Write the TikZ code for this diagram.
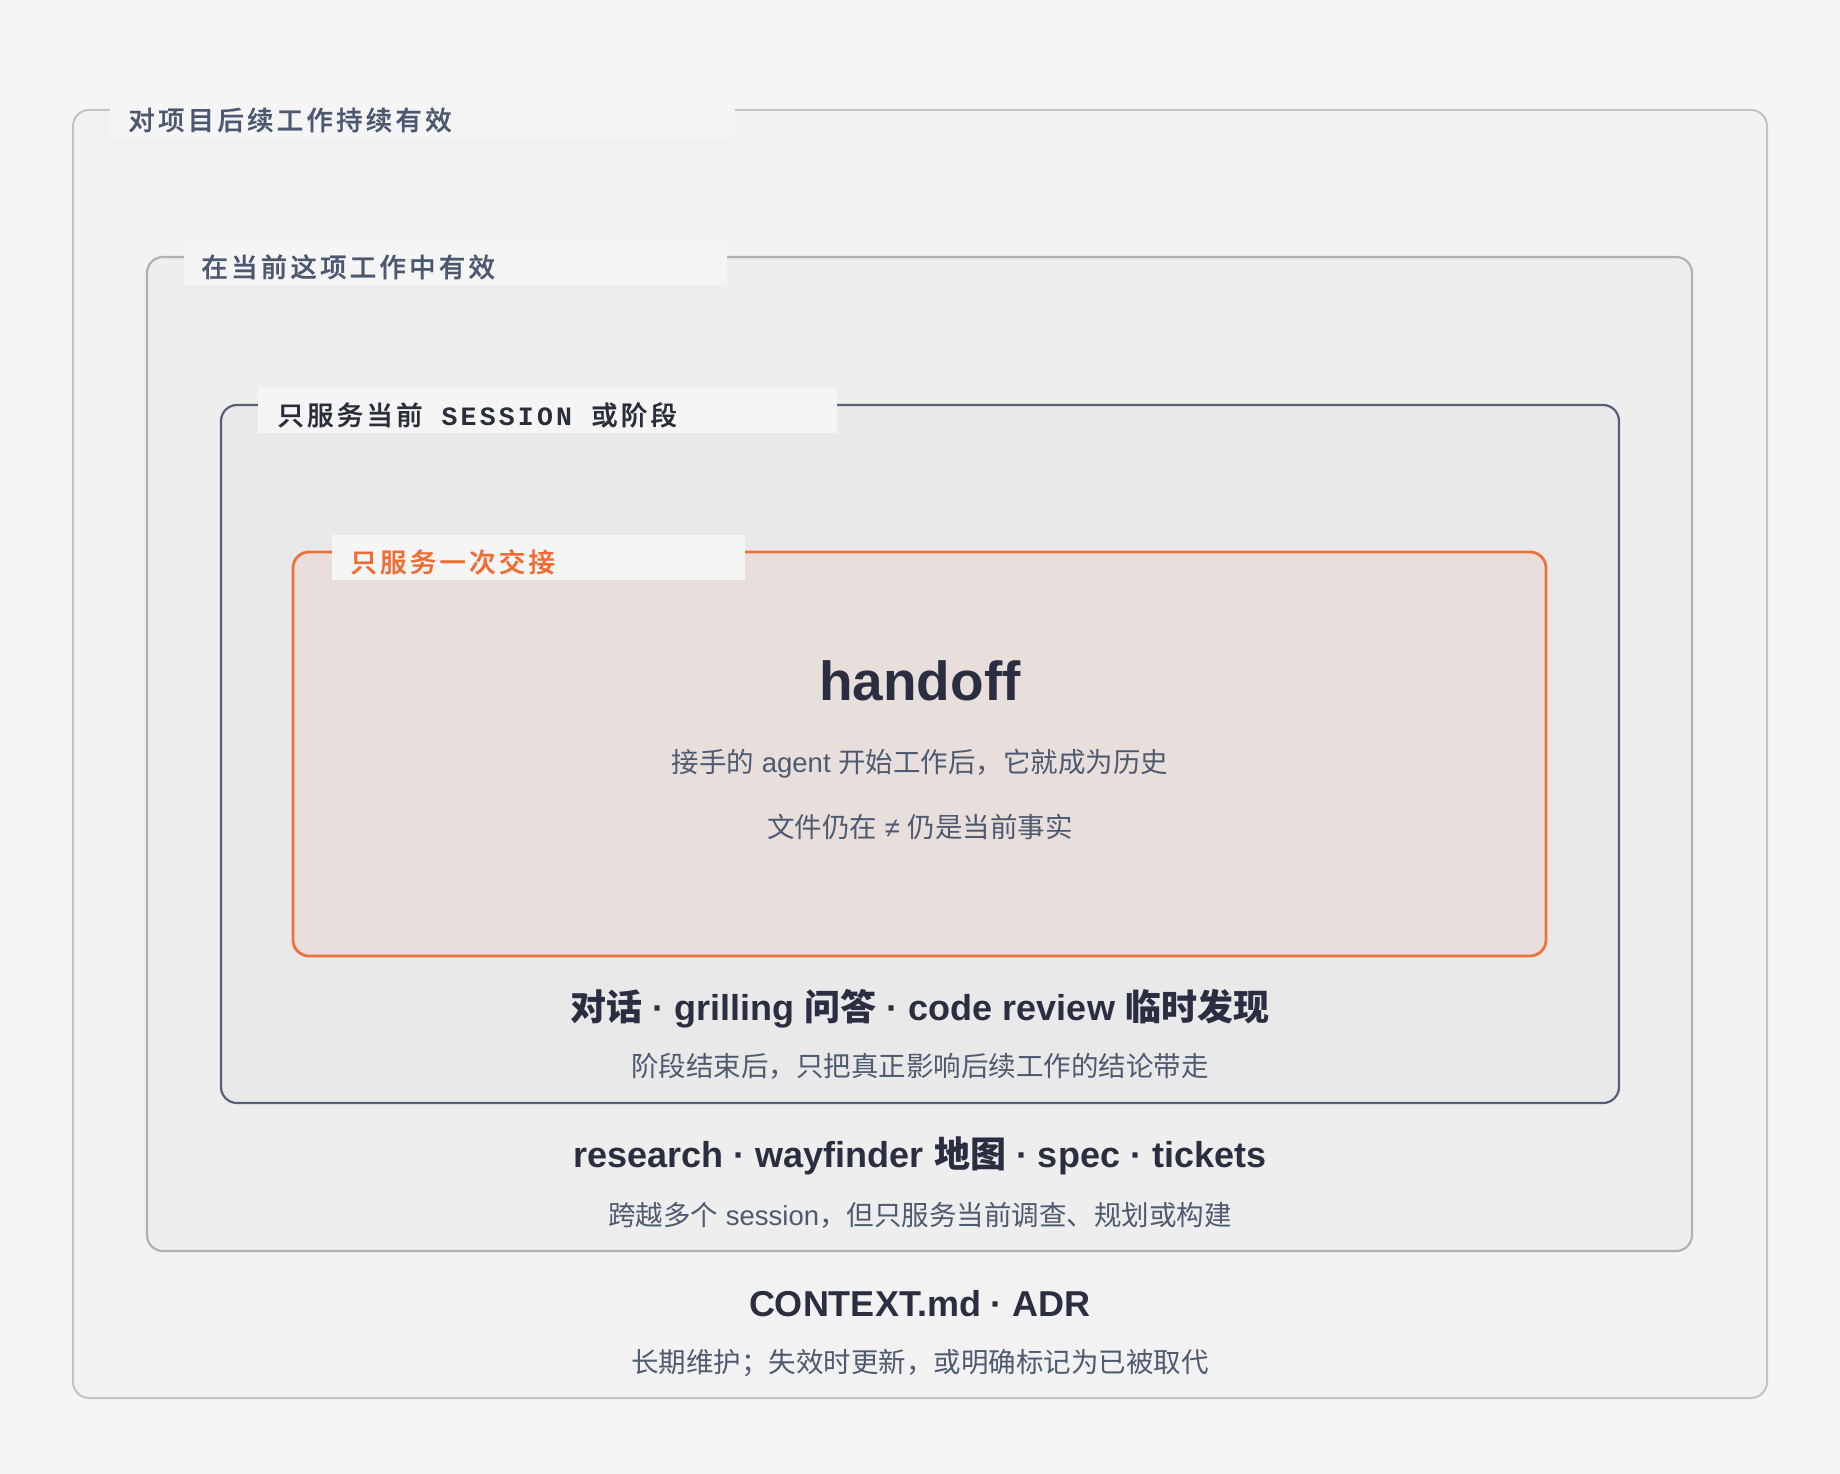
\documentclass[tikz,border=0pt]{standalone}
\usepackage{fontspec}
\setmainfont{Liberation Sans}
\newfontfamily\cjk{Noto Sans CJK SC}
\newfontfamily\tabcjk[LetterSpace=12,FakeBold=0.7]{Noto Sans CJK SC Medium}
\newfontfamily\tabmono[LetterSpace=12]{Liberation Mono}
\newcommand{\zh}[1]{{\cjk #1}}

\definecolor{pagebg}{HTML}{F5F5F5}
\definecolor{outerfill}{HTML}{F2F2F2}
\definecolor{outerline}{HTML}{C4C4C8}
\definecolor{midfill}{HTML}{EEEEEE}
\definecolor{midline}{HTML}{B1B1B5}
\definecolor{sessfill}{HTML}{E9E9EA}
\definecolor{sessline}{HTML}{566178}
\definecolor{handfill}{HTML}{E8DFDD}
\definecolor{handline}{HTML}{EF7038}
\definecolor{titleink}{HTML}{2B2E40}
\definecolor{noteink}{HTML}{4E5A70}
\definecolor{tabslate}{HTML}{4B5870}
\definecolor{tabdark}{HTML}{2A2D3A}
\definecolor{taborange}{HTML}{EF6C33}

\tikzset{every picture/.style={line width=0.75pt}}
\tikzset{
  layer/.style={rounded corners=16pt, line width=2.2pt},
  tabbg/.style={fill=pagebg, draw=none},
  tabtext/.style={anchor=base west, inner sep=0pt, font=\tabcjk\fontsize{26.5}{30}\selectfont},
  itemtitle/.style={anchor=base, inner sep=0pt, text=titleink, font=\bfseries\fontsize{36}{42}\selectfont},
  itemnote/.style={anchor=base, inner sep=0pt, text=noteink, font=\fontsize{27.5}{32}\selectfont},
}

\begin{document}
\begin{tikzpicture}[x=1pt,y=1pt,yscale=-1,xscale=1]
        % Page
        \fill[pagebg] (0,0) rectangle (1840,1474);
        \useasboundingbox (0,0) rectangle (1840,1474);

        % Layers
        \draw[layer, draw=outerline, fill=outerfill, line width=2pt] (73,110) rectangle (1767,1398);
        \draw[layer, draw=midline, fill=midfill] (147,257) rectangle (1692,1251);
        \draw[layer, draw=sessline, fill=sessfill] (221,405) rectangle (1619,1103);
        \draw[layer, draw=handline, fill=handfill, line width=2.8pt] (293,552) rectangle (1546,956);

        % Tabs
        \fill[tabbg] (110,93) rectangle (735,138);
        \node[tabtext, text=tabslate] (tabproject) at (128,130) {对项目后续工作持续有效};
        \fill[tabbg] (184,240) rectangle (727,285);
        \node[tabtext, text=tabslate] (tabwork) at (201,277) {在当前这项工作中有效};
        \fill[tabbg] (258,388) rectangle (837,433);
        \node[tabtext, text=tabdark] (tabsession) at (277,425) {只服务当前{\tabmono\bfseries{} SESSION }或阶段};
        \fill[tabbg] (332,535) rectangle (745,580);
        \node[tabtext, text=taborange] (tabhandoff) at (350,572) {只服务一次交接};

        % Handoff
        \node[itemtitle, font=\bfseries\fontsize{55}{60}\selectfont] (handoff) at (920,700) {handoff};
        \node[itemnote] (handoffnote) at (920,772) {\zh{接手的} agent \zh{开始工作后，它就成为历史}};
        \node[itemnote] (handoffwarn) at (920,837) {\zh{文件仍在} ≠ \zh{仍是当前事实}};

        % Session
        \node[itemtitle] (session) at (920,1020) {\zh{对话} · grilling \zh{问答} · code review \zh{临时发现}};
        \node[itemnote] (sessionnote) at (920,1076) {\zh{阶段结束后，只把真正影响后续工作的结论带走}};

        % Work
        \node[itemtitle] (work) at (920,1167) {research · wayfinder \zh{地图} · spec · tickets};
        \node[itemnote] (worknote) at (920,1225) {\zh{跨越多个} session\zh{，但只服务当前调查、规划或构建}};

        % Project
        \node[itemtitle] (project) at (920,1316) {CONTEXT.md · ADR};
        \node[itemnote] (projectnote) at (920,1372) {\zh{长期维护；失效时更新，或明确标记为已被取代}};

\end{tikzpicture}
\end{document}
